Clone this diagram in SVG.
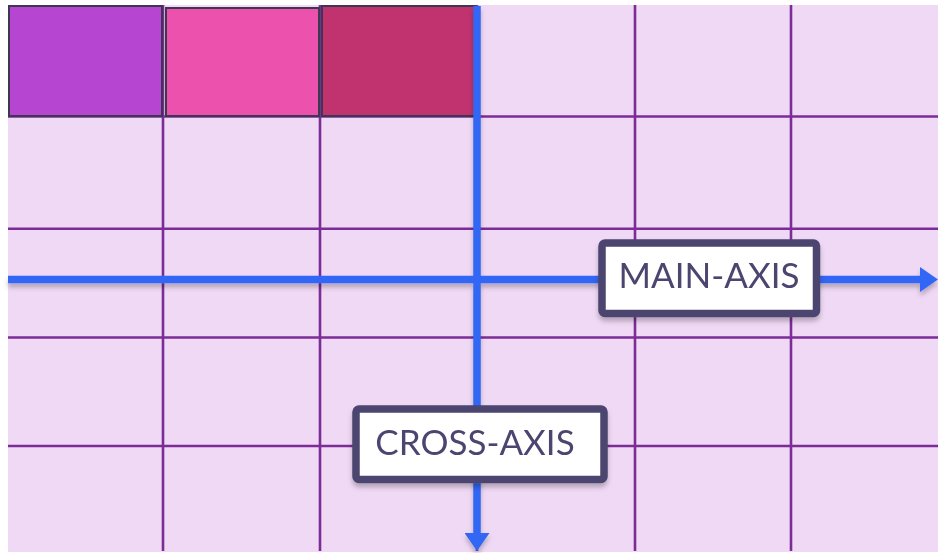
<svg xmlns="http://www.w3.org/2000/svg" width="938" height="553" viewBox="0 0 938 553">
<defs>
<style>
.grid{stroke:#7b2c97;stroke-width:2.6;fill:none}
.sq{stroke:#3d3852;stroke-width:2}
.axis{stroke:#3366f5;stroke-width:7.5;fill:none}
.lbl{fill:#ffffff;stroke:#4b4570;stroke-width:7.5}
.txt{font-family:"Lato","Liberation Sans",sans-serif;font-size:35px;fill:#4b4570}
</style>
<filter id="sh" x="-10%" y="-50%" width="120%" height="200%">
<feDropShadow dx="0" dy="4" stdDeviation="2.5" flood-color="#000" flood-opacity="0.25"/>
</filter>
<marker id="ah" viewBox="0 0 18 25" refX="0" refY="12.5" markerWidth="18" markerHeight="25" markerUnits="userSpaceOnUse" orient="auto">
<path d="M0,0 L18,12.5 L0,25 Z" fill="#3366f5"/>
</marker>
</defs>
<rect x="0" y="0" width="938" height="553" fill="#ffffff"/>
<rect x="8" y="5" width="930" height="547" fill="#f0d9f5"/>
<g id="grid">
<line class="grid" x1="163" y1="5" x2="163" y2="551"/>
<line class="grid" x1="320" y1="5" x2="320" y2="551"/>
<line class="grid" x1="477" y1="5" x2="477" y2="551"/>
<line class="grid" x1="635" y1="5" x2="635" y2="551"/>
<line class="grid" x1="791" y1="5" x2="791" y2="551"/>
<line class="grid" x1="8" y1="116.5" x2="938" y2="116.5"/>
<line class="grid" x1="8" y1="228.7" x2="938" y2="228.7"/>
<line class="grid" x1="8" y1="337.5" x2="938" y2="337.5"/>
<line class="grid" x1="8" y1="446" x2="938" y2="446"/>
</g>
<g id="item1"><rect class="sq" x="9" y="6" width="153" height="110" fill="#b646d1"/></g>
<g id="item2"><rect class="sq" x="166" y="8" width="153" height="108" fill="#ec52ad"/></g>
<g id="item3"><rect class="sq" x="322" y="6" width="153" height="110" fill="#c0336f"/></g>
<g id="connectors" filter="url(#sh)">
<line class="axis" x1="8" y1="279.5" x2="920" y2="279.5" marker-end="url(#ah)"/>
<line class="axis" x1="477" y1="6" x2="477" y2="533" marker-end="url(#ah)"/>
</g>
<g id="main-axis" filter="url(#sh)">
<rect class="lbl" x="602" y="243" width="214.5" height="70.5" rx="3"/>
<text class="txt" x="709" y="288.3" text-anchor="middle">MAIN-AXIS</text>
</g>
<g id="cross-axis" filter="url(#sh)">
<rect class="lbl" x="356" y="409" width="248" height="70.5" rx="3"/>
<text class="txt" x="475" y="455" text-anchor="middle">CROSS-AXIS</text>
</g>
</svg>
